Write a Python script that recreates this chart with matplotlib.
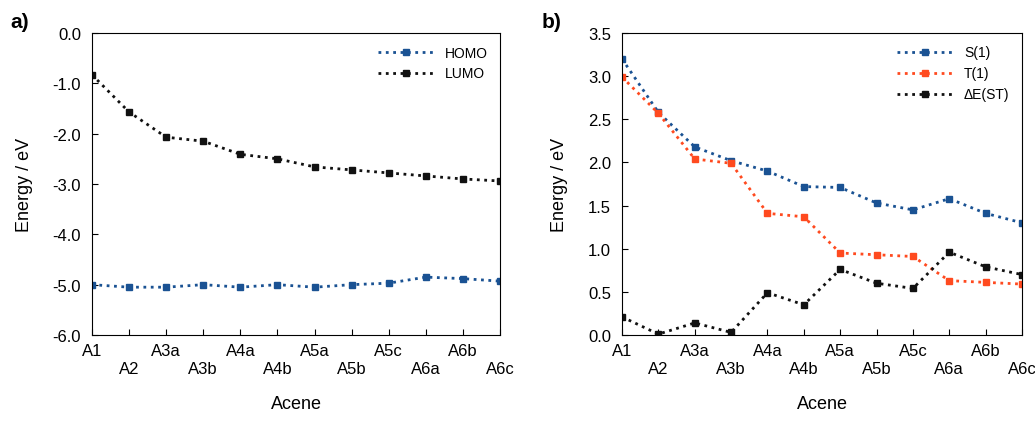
import matplotlib
matplotlib.use("Agg")
import matplotlib.pyplot as plt

acenes = ["A1","A2","A3a","A3b","A4a","A4b","A5a","A5b","A5c","A6a","A6b","A6c"]
homo = [-5.0,-5.05,-5.05,-5.0,-5.05,-5.0,-5.05,-5.0,-4.97,-4.85,-4.88,-4.93]
lumo = [-0.83,-1.57,-2.07,-2.15,-2.41,-2.5,-2.66,-2.72,-2.78,-2.84,-2.9,-2.94]
s1 = [3.2,2.58,2.18,2.02,1.9,1.72,1.71,1.53,1.45,1.58,1.41,1.3]
t1 = [2.99,2.57,2.04,1.99,1.41,1.37,0.95,0.93,0.91,0.63,0.61,0.59]
dest = [0.21,0.01,0.14,0.03,0.49,0.35,0.76,0.6,0.54,0.96,0.79,0.7]

plt.rcParams['font.family'] = ['Liberation Sans', 'DejaVu Sans']
fig = plt.figure(figsize=(10.35,4.27), dpi=100)
ax1 = fig.add_axes([92/1035, 1-336/427, 408/1035, 302/427])
ax2 = fig.add_axes([622/1035, 1-336/427, 400/1035, 302/427])
blue, red, black = "#1a5293", "#ff4a1f", "#111111"
x = list(range(len(acenes)))

def style(ax):
    ax.set_xlim(0, len(acenes)-1)
    ax.set_xticks(x)
    ax.set_xticklabels([a if i%2==0 else "\n"+a for i,a in enumerate(acenes)])
    ax.tick_params(labelsize=12, direction='in', length=4)
    ax.tick_params(axis='y', pad=8)
    ax.tick_params(axis='x', pad=6)
    ax.set_xlabel("Acene", fontsize=13, labelpad=14)
    ax.set_ylabel("Energy / eV", fontsize=13, labelpad=14)
    ax.legend(loc="upper right", fontsize=10, frameon=False, handlelength=4)

kw = dict(linestyle=":", linewidth=2, marker="s", markersize=5)
ax1.plot(x, homo, color=blue, label="HOMO", **kw)
ax1.plot(x, lumo, color=black, label="LUMO", **kw)
ax1.set_ylim(-6, 0)
ax1.set_yticks([-6,-5,-4,-3,-2,-1,0])
ax1.set_yticklabels([f"{v:.1f}" for v in [-6,-5,-4,-3,-2,-1,0]])
style(ax1)

ax2.plot(x, s1, color=blue, label="S(1)", **kw)
ax2.plot(x, t1, color=red, label="T(1)", **kw)
ax2.plot(x, dest, color=black, label="ΔE(ST)", **kw)
ax2.set_ylim(0, 3.5)
ax2.set_yticks([i*0.5 for i in range(8)])
ax2.set_yticklabels([f"{i*0.5:.1f}" for i in range(8)])
style(ax2)

fig.text(10/1035, 1-22/427, "a)", fontsize=15, fontweight="bold", va="center")
fig.text(542/1035, 1-22/427, "b)", fontsize=15, fontweight="bold", va="center")
fig.savefig("out.png", dpi=100)
